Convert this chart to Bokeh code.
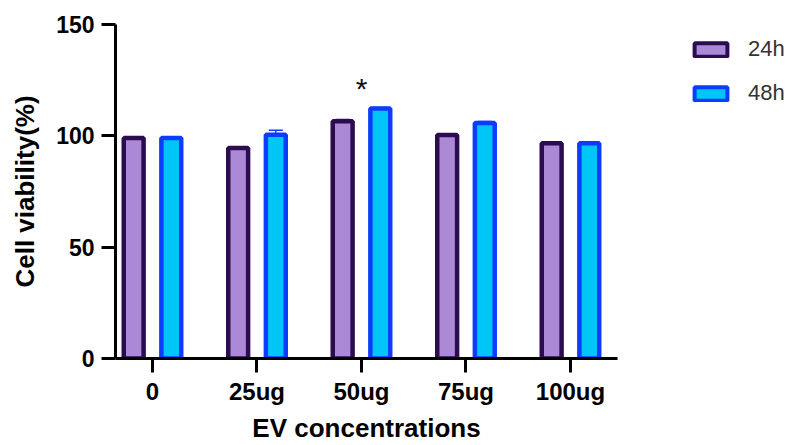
from bokeh.plotting import figure
from bokeh.layouts import row
from bokeh.models import (ColumnDataSource, Range1d, FixedTicker, Legend, LegendItem,
                          Whisker, TeeHead)
from bokeh.transform import dodge
from bokeh.core.properties import value
from bokeh.embed import file_html
from bokeh.resources import INLINE

# ---- data ----
categories = ["0", "25ug", "50ug", "75ug", "100ug"]
series_names = ["24h", "48h"]
viability_24h = [99.0, 94.5, 106.6, 100.4, 96.7]
viability_48h = [99.0, 100.5, 112.3, 105.8, 96.7]
error_24h = [0.3, 0.4, 0.7, 0.5, 0.3]
error_48h = [0.3, 2.0, 0.4, 0.6, 0.3]
significant = ["", "", "*", "", ""]
y_ticks = [0, 50, 100, 150]

FONT = "Liberation Sans"
C24_FILL, C24_LINE = "#ab89d6", "#2c0c50"
C48_FILL, C48_LINE = "#00c6f8", "#0b3cff"

xs = list(range(len(categories)))
src = ColumnDataSource(dict(
    x=xs,
    v24=viability_24h, v48=viability_48h,
    u24=[v + e for v, e in zip(viability_24h, error_24h)],
    u48=[v + e for v, e in zip(viability_48h, error_48h)],
))

p = figure(width=640, height=445, output_backend="svg", toolbar_location=None,
           x_range=Range1d(-0.354, 4.45), y_range=Range1d(0, 150),
           min_border_left=115, min_border_right=23, min_border_top=24,
           min_border_bottom=83)
p.outline_line_color = None
p.grid.visible = False
p.background_fill_color = "white"
p.border_fill_color = "white"

off = 0.18
bw = 0.19
r24 = p.vbar(x=dodge("x", -off), top="v24", width=bw, bottom=0, source=src,
             fill_color=C24_FILL, line_color=C24_LINE, line_width=4.5)
r48 = p.vbar(x=dodge("x", off), top="v48", width=bw, bottom=0, source=src,
             fill_color=C48_FILL, line_color=C48_LINE, line_width=4.5)

for col_v, col_u, color, d in (("v24", "u24", C24_LINE, -off), ("v48", "u48", C48_LINE, off)):
    w = Whisker(base=dodge("x", d), lower=col_v, upper=col_u, source=src,
                line_color=color, line_width=1.5,
                upper_head=TeeHead(size=14, line_color=color, line_width=1.5),
                lower_head=None)
    p.add_layout(w)

# significance marker
star_x = [i for i, s in enumerate(significant) if s]
star_y = [max(viability_24h[i] + error_24h[i], viability_48h[i] + error_48h[i]) + 8.5 for i in star_x]
star_t = [significant[i] for i in star_x]
p.text(x=star_x, y=star_y, text=star_t, text_align="center", text_baseline="alphabetic",
       text_font=value(FONT), text_font_size="30px", text_color="#111111")

# axes
p.xaxis.ticker = FixedTicker(ticks=xs)
p.xaxis.major_label_overrides = {i: c for i, c in enumerate(categories)}
p.yaxis.ticker = FixedTicker(ticks=y_ticks)
p.xaxis.minor_tick_line_color = None
p.yaxis.minor_tick_line_color = None
for ax in (p.xaxis, p.yaxis):
    ax.axis_line_width = 3
    ax.axis_line_color = "black"
    ax.major_tick_line_width = 3
    ax.major_tick_line_color = "black"
    ax.major_tick_out = 14
    ax.major_tick_in = 0
    ax.major_label_text_font = FONT
    ax.major_label_text_font_style = "bold"
    ax.major_label_text_color = "black"
    ax.axis_label_text_font = FONT
    ax.axis_label_text_font_style = "bold"
    ax.axis_label_text_color = "black"
p.xaxis.major_label_text_font_size = "24px"
p.yaxis.major_label_text_font_size = "23px"
p.xaxis.major_label_standoff = 5
p.yaxis.major_label_standoff = 7
p.xaxis.axis_label = "EV concentrations"
p.yaxis.axis_label = "Cell viability(%)"
p.xaxis.axis_label_text_font_size = "26px"
p.yaxis.axis_label_text_font_size = "26px"
p.xaxis.axis_label_standoff = 5
p.yaxis.axis_label_standoff = 13

# legend panel (separate figure at the right)
lg = figure(width=155, height=445, output_backend="svg", toolbar_location=None,
            x_range=Range1d(0, 1), y_range=Range1d(0, 1),
            min_border_left=38, min_border_right=0, min_border_top=24, min_border_bottom=83)
lg.axis.visible = False
lg.grid.visible = False
lg.outline_line_color = None
# zero-size placeholder bars (hidden under the legend swatch) that only carry the legend style
dummy = ColumnDataSource(dict(x=[0.28], top=[0.93], bottom=[0.93]))
l24 = lg.vbar(x="x", top="top", bottom="bottom", width=0, source=dummy,
              fill_color=C24_FILL, line_color=C24_LINE, line_width=4)
l48 = lg.vbar(x="x", top="top", bottom="bottom", width=0, source=dummy,
              fill_color=C48_FILL, line_color=C48_LINE, line_width=4)
legend = Legend(items=[LegendItem(label=series_names[0], renderers=[l24]),
                       LegendItem(label=series_names[1], renderers=[l48])],
                location="top_left", orientation="vertical",
                glyph_width=41, glyph_height=17, label_height=17, spacing=18,
                label_standoff=17, padding=0, margin=12,
                label_text_font=FONT, label_text_font_size="22px",
                label_text_color="#333333",
                border_line_color=None, background_fill_alpha=0)
lg.add_layout(legend, "center")

layout = row(p, lg)
open("out.html", "w").write(file_html(layout, INLINE))
